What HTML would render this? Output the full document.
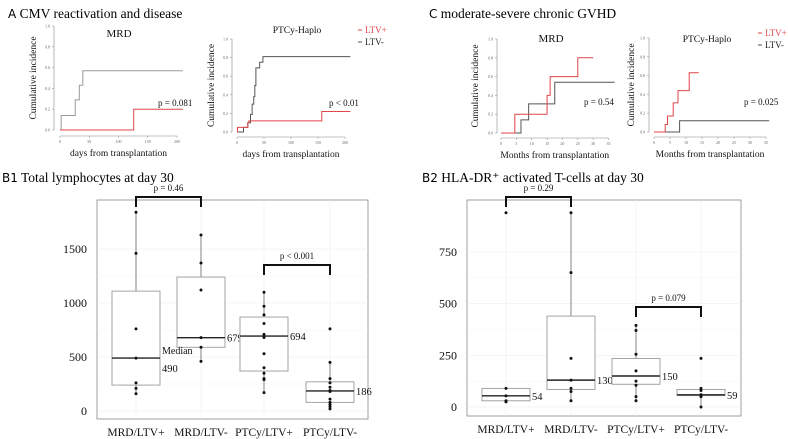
<!DOCTYPE html>
<html><head><meta charset="utf-8">
<style>
html,body{margin:0;padding:0;background:#fff;}
svg{display:block;font-family:"Liberation Serif",serif;}
.h{font-family:"DejaVu Sans","Liberation Sans",sans-serif;}
</style></head>
<body>
<svg id="fig" width="788" height="439" viewBox="0 0 788 439" xmlns="http://www.w3.org/2000/svg">
<text x="8" y="18" font-size="13.5"><tspan class="h" font-size="12">A</tspan> CMV reactivation and disease</text>
<text x="429" y="18" font-size="13.5"><tspan class="h" font-size="12">C</tspan>  moderate-severe chronic GVHD</text>
<text x="2" y="182" font-size="13.5"><tspan class="h" font-size="12">B1</tspan> Total lymphocytes at day 30</text>
<text x="422" y="182" font-size="13.5"><tspan class="h" font-size="12">B2</tspan> HLA-DR⁺ activated T-cells at day 30</text>
<g id="g"></g>
</svg>
<script>
// ---- KM data (value v[i] holds from time t[i] onward) ----
const cmvMrdNegT=[0,2,26,33,39,210], cmvMrdNegV=[0,0.14,0.29,0.43,0.57,0.57];
const cmvMrdPosT=[0,126,210], cmvMrdPosV=[0,0.2,0.2];
const cmvHapNegT=[0,12,20,25,28,31,33,35,42,48,210], cmvHapNegV=[0,0.05,0.1,0.19,0.3,0.38,0.5,0.69,0.75,0.81,0.81];
const cmvHapPosT=[0,1,20,22,157,210], cmvHapPosV=[0,0.05,0.1,0.12,0.22,0.22];
const gvMrdNegT=[0,6.5,9,17.5,37], gvMrdNegV=[0,0.14,0.31,0.54,0.54];
const gvMrdPosT=[0,4.5,15,16,25,30], gvMrdPosV=[0,0.2,0.4,0.6,0.8,0.8];
const gvHapNegT=[0,8,36], gvHapNegV=[0,0.12,0.12];
const gvHapPosT=[0,3.5,4.2,6,7.5,11,14], gvHapPosV=[0,0.08,0.17,0.31,0.44,0.63,0.63];
const yTicksKM=[0,0.2,0.4,0.6,0.8,1.0];
const daysTicks=[0,50,100,150,200];
const monthTicks=[0,5,10,15,20,25,30,35];
// ---- Box data ----
const groups=["MRD/LTV+","MRD/LTV-","PTCy/LTV+","PTCy/LTV-"];
const b1Q1=[240,590,370,80], b1Med=[490,679,694,186], b1Q3=[1110,1240,870,270], b1Lo=[160,460,170,20], b1Hi=[1840,1630,1100,450];
const b1Pts=[[1840,1460,760,490,260,210,160],[1630,1370,1120,679,590,460],[1100,970,890,810,710,680,530,400,350,300,290,170],[760,450,300,260,220,190,180,110,80,60,40,20]];
const b1Labels=["490","679","694","186"];
const b1Ticks=[0,500,1000,1500];
const b2Q1=[30,85,110,55], b2Med=[54,130,150,59], b2Q3=[90,440,235,85], b2Lo=[25,30,30,0], b2Hi=[90,940,395,95];
const b2Pts=[[940,90,54,30,25],[940,650,235,130,90,75,30],[395,370,255,175,125,105,50,30],[235,90,80,60,55,50,0]];
const b2Labels=["54","130","150","59"];
const b2Ticks=[0,250,500,750];

const NS="http://www.w3.org/2000/svg";
const G=document.getElementById('g');
function mk(tag,attrs,parent){const e=document.createElementNS(NS,tag);for(const k in attrs)e.setAttribute(k,attrs[k]);(parent||G).appendChild(e);return e;}
function txt(x,y,s,size,anchor,parent,fill){const t=mk('text',{x:x,y:y,'font-size':size,'text-anchor':anchor||'start',fill:fill||'#111'},parent);t.textContent=s;return t;}

function km(c){
  const g=mk('g',{});
  
  
  const sx=t=>c.x0+(t-c.xmin)*(c.x1-c.x0)/(c.xmax-c.xmin);
  const sy=v=>c.y0+v*(c.y1-c.y0);
  mk('line',{x1:c.ax,y1:sy(0),x2:c.ax,y2:sy(1),stroke:'#888','stroke-width':0.6},g);
  mk('line',{x1:sx(c.ticks[0]),y1:c.axy,x2:sx(c.ticks[c.ticks.length-1]),y2:c.axy,stroke:'#888','stroke-width':0.6},g);
  yTicksKM.forEach(v=>{mk('line',{x1:c.ax-2,y1:sy(v),x2:c.ax,y2:sy(v),stroke:'#888','stroke-width':0.5},g);txt(c.ax-4,sy(v)+1.5,v.toFixed(1),4,'end',g,'#666');});
  c.ticks.forEach(v=>{mk('line',{x1:sx(v),y1:c.axy,x2:sx(v),y2:c.axy+2,stroke:'#888','stroke-width':0.5},g);txt(sx(v),c.axy+7,String(v),4,'middle',g,'#666');});
  c.series.forEach(s=>{
    let d='M'+sx(s.t[0])+' '+sy(s.v[0]);
    for(let i=1;i<s.t.length;i++){d+=' H'+sx(s.t[i])+' V'+sy(s.v[i]);}
    const p=mk('path',{d:d,fill:'none',stroke:s.col,'stroke-width':1},g);
    
    
  });
  txt(c.tx,c.ty,c.title,c.tsize||11,'middle',g);
  txt(c.px,c.py,c.p,9,'start',g);
  const yl=txt(0,0,'Cumulative incidence',9.5,'middle',g);
  yl.setAttribute('transform','translate('+c.ylx+','+((sy(0)+sy(1))/2)+') rotate(-90)');
  txt((c.x0+c.x1)/2,c.axy+20,c.xlab,9.5,'middle',g);
}
const RED='#e0454a', GR='#555';
km({name:'cmv-mrd-plot',xmin:0,xmax:200,x0:60,x1:177,y0:130,y1:26,ax:54,axy:136,ticks:daysTicks,tx:119,ty:37,title:'MRD',px:158,py:106,p:'p = 0.081',ylx:36,xlab:'days from transplantation',
 series:[{t:cmvMrdNegT,v:cmvMrdNegV,col:'#999',name:'cmv-mrd-ltv-neg'},{t:cmvMrdPosT,v:cmvMrdPosV,col:RED,name:'cmv-mrd-ltv-pos'}]});
km({name:'cmv-haplo-plot',xmin:0,xmax:200,x0:237,x1:345,y0:132,y1:39,ax:232,axy:137,ticks:daysTicks,tx:297,ty:33,title:'PTCy-Haplo',tsize:9.5,px:329,py:106,p:'p < 0.01',ylx:214,xlab:'days from transplantation',
 series:[{t:cmvHapNegT,v:cmvHapNegV,col:GR,name:'cmv-haplo-ltv-neg'},{t:cmvHapPosT,v:cmvHapPosV,col:RED,name:'cmv-haplo-ltv-pos'}]});
km({name:'gvhd-mrd-plot',xmin:0,xmax:35,x0:501,x1:608.5,y0:133,y1:39,ax:497,axy:138,ticks:monthTicks,tx:551,ty:42,title:'MRD',px:584,py:105,p:'p = 0.54',ylx:478,xlab:'Months from transplantation',
 series:[{t:gvMrdNegT,v:gvMrdNegV,col:GR,name:'gvhd-mrd-ltv-neg'},{t:gvMrdPosT,v:gvMrdPosV,col:RED,name:'gvhd-mrd-ltv-pos'}]});
km({name:'gvhd-haplo-plot',xmin:0,xmax:35,x0:654,x1:766,y0:132,y1:38,ax:649,axy:137,ticks:monthTicks,tx:707,ty:42,title:'PTCy-Haplo',tsize:9.5,px:744,py:105,p:'p = 0.025',ylx:634,xlab:'Months from transplantation',
 series:[{t:gvHapNegT,v:gvHapNegV,col:GR,name:'gvhd-haplo-ltv-neg'},{t:gvHapPosT,v:gvHapPosV,col:RED,name:'gvhd-haplo-ltv-pos'}]});
function legend(x,y,n){const g=mk('g',{});
 mk('line',{x1:x,y1:y-3,x2:x+4,y2:y-3,stroke:RED,'stroke-width':1},g);txt(x+7,y,'LTV+',9,'start',g,RED);
 mk('line',{x1:x,y1:y+9,x2:x+4,y2:y+9,stroke:GR,'stroke-width':1},g);txt(x+7,y+12,'LTV-',9,'start',g,'#222');}
legend(358,33,'legend-cmv');legend(758,36,'legend-gvhd');

function boxplot(c){
  const g=mk('g',{});
  
  
  const sy=v=>c.y0+v*(c.y1-c.y0)/c.vmax;
  mk('rect',{x:c.L,y:c.T,width:c.R-c.L,height:c.B-c.T,fill:'none',stroke:'#888','stroke-width':0.8},g);
  c.ticks.forEach((v,i)=>{mk('line',{x1:c.L,y1:sy(v),x2:c.R,y2:sy(v),stroke:'#eee','stroke-width':0.6},g);
    if(i<c.ticks.length-1){const m=(v+c.ticks[i+1])/2;mk('line',{x1:c.L,y1:sy(m),x2:c.R,y2:sy(m),stroke:'#f3f3f3','stroke-width':0.5},g);}
    txt(c.L-10,sy(v)+4,String(v),12,'end',g);});
  groups.forEach((n,i)=>{
    const cx=c.cx[i];
    mk('line',{x1:cx,y1:c.T,x2:cx,y2:c.B,stroke:'#eee','stroke-width':0.6},g);
    mk('line',{x1:cx,y1:sy(c.lo[i]),x2:cx,y2:sy(c.hi[i]),stroke:'#666','stroke-width':0.8},g);
    const b=mk('rect',{x:cx-24,y:sy(c.q3[i]),width:48,height:sy(c.q1[i])-sy(c.q3[i]),fill:'#fff',stroke:'#999','stroke-width':0.9},g);
    
    
    mk('line',{x1:cx-24,y1:sy(c.med[i]),x2:cx+24,y2:sy(c.med[i]),stroke:'#222','stroke-width':1.4},g);
    c.pts[i].forEach(v=>{const p=mk('circle',{cx:cx,cy:sy(v),r:1.5,fill:'#111'},g);});
    txt(cx+26,sy(c.med[i])+4+(c.labDy?c.labDy[i]:0),c.labs[i],10.5,'start',g);
    txt(cx,c.B+17,n,11.5,'middle',g);
  });
  c.br.forEach(b=>{const x1=c.cx[b.a],x2=c.cx[b.b];
    const p=mk('path',{d:'M'+x1+' '+(b.y+10)+' V'+b.y+' H'+x2+' V'+(b.y+10),fill:'none',stroke:'#111','stroke-width':2},g);
    
    txt((x1+x2)/2,b.y-6,b.p,9,'middle',g);});
}
boxplot({name:'b1-boxplot',L:97,R:368,T:200,B:419,y0:411,y1:249,vmax:1500,ticks:b1Ticks,cx:[136,201,264,330],q1:b1Q1,med:b1Med,q3:b1Q3,lo:b1Lo,hi:b1Hi,pts:b1Pts,labs:b1Labels,labDy:[10,0,0,0],
  br:[{a:0,b:1,y:197,p:'p = 0.46'},{a:2,b:3,y:265,p:'p < 0.001'}]});
txt(162,354,'Median',10,'start');
boxplot({name:'b2-boxplot',L:467,R:741,T:200,B:416,y0:407,y1:252,vmax:750,ticks:b2Ticks,cx:[506,571,636,701],q1:b2Q1,med:b2Med,q3:b2Q3,lo:b2Lo,hi:b2Hi,pts:b2Pts,labs:b2Labels,
  br:[{a:0,b:1,y:197,p:'p = 0.29'},{a:2,b:3,y:307,p:'p = 0.079'}]});
</script>
</body></html>
